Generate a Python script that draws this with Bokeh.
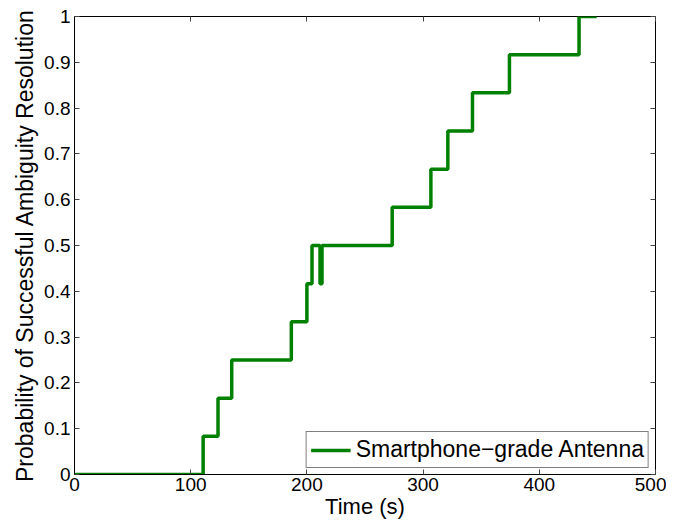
from bokeh.plotting import figure
from bokeh.models import FixedTicker, LinearAxis, Range1d, Legend, LegendItem
from bokeh.embed import file_html
from bokeh.resources import INLINE

# data
time_s = [0, 110.7, 123.5, 135.3, 186.6, 200.0, 204.4, 211.3, 213.0,
          273.4, 306.7, 321.3, 342.5, 374.3, 434.2, 449.4]
prob = [0, 1/12, 2/12, 3/12, 4/12, 5/12, 6/12, 5/12, 6/12,
        7/12, 8/12, 9/12, 10/12, 11/12, 1.0, 1.0]
series_name = "Smartphone\u2212grade Antenna"

x_ticks = [0, 100, 200, 300, 400, 500]
x_tick_labels = ["0", "100", "200", "300", "400", "500"]
y_ticks = [0.0, 0.1, 0.2, 0.3, 0.4, 0.5, 0.6, 0.7, 0.8, 0.9, 1.0]
y_tick_labels = ["0", "0.1", "0.2", "0.3", "0.4", "0.5", "0.6", "0.7", "0.8", "0.9", "1"]

FONT = "Liberation Sans"

p = figure(width=666, height=521, output_backend="svg", toolbar_location=None,
           x_range=Range1d(0, 500), y_range=Range1d(0, 1),
           min_border_left=74, min_border_right=11, min_border_top=16, min_border_bottom=47)
p.background_fill_color = "white"
p.border_fill_color = "white"
p.outline_line_color = "black"
p.outline_line_width = 1
p.xgrid.visible = False
p.ygrid.visible = False

r = p.step(time_s, prob, mode="after", line_color="#008000", line_width=3.5)

for ax, ticks, labels in [(p.xaxis[0], x_ticks, x_tick_labels), (p.yaxis[0], y_ticks, y_tick_labels)]:
    ax.ticker = FixedTicker(ticks=ticks)
    ax.major_label_overrides = {t: l for t, l in zip(ticks, labels)}
    ax.major_tick_in = 5
    ax.major_tick_out = 0
    ax.minor_tick_line_color = None
    ax.major_label_text_font = FONT
    ax.major_label_text_font_size = "19px"
    ax.major_label_text_color = "black"
    ax.axis_label_text_font = FONT
    ax.axis_label_text_font_size = "22px"
    ax.axis_label_text_font_style = "normal"
    ax.axis_label_text_color = "black"
    ax.axis_line_color = "black"
    ax.major_tick_line_color = "#444444"

p.xaxis[0].axis_label = "Time (s)"
p.xaxis[0].axis_label_standoff = 0
p.xaxis[0].major_label_standoff = 3
p.yaxis[0].axis_label = "Probability of Successful Ambiguity Resolution"
p.yaxis[0].axis_label_text_font_size = "23px"
p.yaxis[0].axis_label_standoff = 3
p.yaxis[0].major_label_standoff = 4

for loc, ticks in [("above", x_ticks), ("right", y_ticks)]:
    ax = LinearAxis(ticker=FixedTicker(ticks=ticks),
                    major_label_overrides={t: "" for t in ticks},
                    major_label_text_font_size="1px",
                    major_label_standoff=0, major_tick_in=5, major_tick_out=0,
                    minor_tick_line_color=None, axis_line_color=None,
                    major_tick_line_color="#444444")
    p.add_layout(ax, loc)

legend = Legend(items=[LegendItem(label=series_name, renderers=[r])],
                location="bottom_right", margin=6, padding=4, spacing=0,
                label_standoff=5, glyph_width=40, glyph_height=18, label_height=18,
                label_text_font=FONT, label_text_font_size="23px", label_text_color="black",
                border_line_color="black", border_line_width=1,
                background_fill_color="white", background_fill_alpha=1.0)
p.add_layout(legend)

open("out.html", "w").write(file_html(p, INLINE))
